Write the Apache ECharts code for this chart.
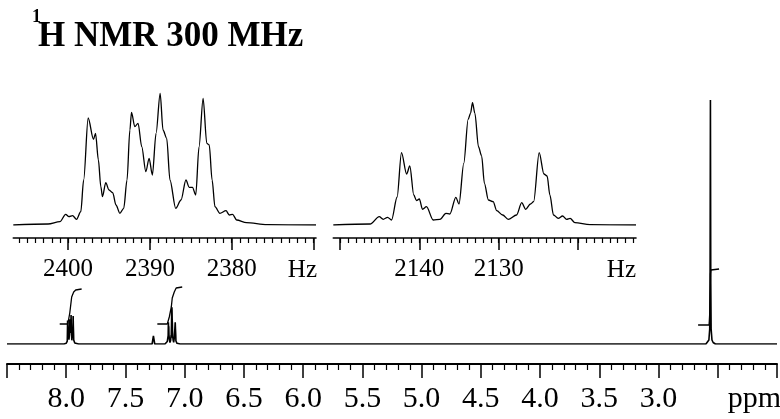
<!DOCTYPE html>
<html><head><meta charset="utf-8">
<script src="https://cdn.jsdelivr.net/npm/echarts@6/dist/echarts.min.js"></script>
<style>html,body{margin:0;padding:0;background:#fff}#c{width:780px;height:419px}</style>
</head><body><div id="c"></div>
<script>
// ---- Inset 1 (aromatic multiplet near 7.97 ppm), Hz vs intensity ----
const inset1Hz = [2406.7, 2402.45, 2401.0, 2400.3, 2399.9, 2399.45, 2398.97, 2398.45, 2398.1, 2397.55, 2396.9, 2396.65, 2396.3, 2396.0, 2395.8, 2395.4, 2395.0, 2394.55, 2394.15, 2393.67, 2393.2, 2392.8, 2392.45, 2392.25, 2391.85, 2391.45, 2391.0, 2390.5, 2390.1, 2389.7, 2389.25, 2388.75, 2388.4, 2387.95, 2387.55, 2386.85, 2386.2, 2385.6, 2385.2, 2384.8, 2384.4, 2384.0, 2383.5, 2383.05, 2382.75, 2382.4, 2382.05, 2381.45, 2380.7, 2380.3, 2379.9, 2379.4, 2378.2, 2375.7, 2369.7];
const inset1Int = [0, 1, 3.3, 10.7, 8.3, 9.3, 5.7, 13.3, 45, 107, 85.7, 91.7, 65, 38.3, 28.3, 42.3, 35, 32.3, 20, 11.7, 16.7, 45, 95, 112.7, 98.3, 101.7, 78.3, 53.3, 66.7, 50, 91.7, 131.7, 95, 86.7, 45, 16.7, 25, 45, 37.7, 37.7, 30, 78, 126.7, 81.7, 80, 45, 18.3, 11.7, 14.3, 10, 10.7, 5, 2.3, 0.3, 0];

// ---- Inset 2 (aromatic multiplet near 7.11 ppm) ----
const inset2Hz = [2150.84, 2146.2, 2145.05, 2144.55, 2144.0, 2143.5, 2142.8, 2142.25, 2141.6, 2141.2, 2140.7, 2140.35, 2140.0, 2139.6, 2139.1, 2138.25, 2137.4, 2136.65, 2136.15, 2135.4, 2135.0, 2134.4, 2133.85, 2133.55, 2133.3, 2133.0, 2132.55, 2132.15, 2131.8, 2131.3, 2130.7, 2130.25, 2129.5, 2128.8, 2127.75, 2127.1, 2126.6, 2126.0, 2125.6, 2124.9, 2124.3, 2123.9, 2123.55, 2123.1, 2122.5, 2121.95, 2121.45, 2121.0, 2120.4, 2118.5, 2112.7];
const inset2Int = [0, 1, 8.3, 5.7, 7.7, 5, 28, 72.3, 51, 59, 30, 24.3, 26, 15.7, 18.3, 5, 5.7, 11.7, 11, 27.7, 21, 61.7, 105.7, 111.7, 122.3, 111.7, 78.3, 69, 41.7, 25, 23.3, 14.3, 10, 5.7, 10, 22.3, 15.7, 21, 23.3, 72.3, 51, 49, 30, 10, 6.7, 9, 5.7, 6.7, 2.3, 0.3, 0];

// ---- Main spectrum pieces (ppm vs intensity) ----
const leadPpm = [8.5], leadInt = [0];
const chcl3Ppm = [7.275, 7.264, 7.253], chcl3Int = [0, 8, 0];
const methylPpm = [2.60, 2.585, 2.575, 2.568, 2.565, 2.562, 2.559, 2.556, 2.549, 2.539, 2.52, 2.0];
const methylInt = [0, 1.5, 4, 15, 60, 244, 60, 15, 4, 1.5, 0, 0];
const spectrometerMHz = 300.13;
const group1Scale = 0.22, group2Scale = 0.30;

// ---- Integral curves ----
const integ1Ppm = [8.055, 7.987, 7.97, 7.954, 7.937, 7.92, 7.87];
const integ1Int = [20, 20, 31, 47, 52, 54, 55];
const integ2Ppm = [7.231, 7.147, 7.13, 7.113, 7.105, 7.088, 7.072, 7.021];
const integ2Int = [20, 20, 27, 37, 46, 52, 56, 57];
const integ3Ppm = [2.666, 2.573, 2.566, 2.562, 2.558, 2.489];
const integ3Int = [19, 19, 35, 70, 74, 75];

// ---- Ticks / labels ----
const mainLabels = [8.0, 7.5, 7.0, 6.5, 6.0, 5.5, 5.0, 4.5, 4.0, 3.5, 3.0];
const inset1Major = [2370, 2380, 2390, 2400];
const inset1Labels = [2380, 2390, 2400];
const inset2Major = [2120, 2130, 2140, 2150];
const inset2Labels = [2130, 2140];
const inset1Range = [2369.7, 2406.7];
const inset2Range = [2112.7, 2150.84];

function zip(a, b) { return a.map((v, i) => [v, b[i]]); }
function intRange(lo, hi) { const r = []; for (let v = Math.ceil(lo); v <= Math.floor(hi); v++) r.push(v); return r; }

const mainData = []
  .concat(zip(leadPpm, leadInt))
  .concat(zip(inset1Hz.map(h => h / spectrometerMHz), inset1Int.map(v => v * group1Scale)))
  .concat(zip(chcl3Ppm, chcl3Int))
  .concat(zip(inset2Hz.map(h => h / spectrometerMHz), inset2Int.map(v => v * group2Scale)))
  .concat(zip(methylPpm, methylInt));

const F = 'Liberation Serif';
const black = '#000';

function insetAxes(grid, range, major, labels) {
  return [
    { gridIndex: grid, type: 'value', min: range[0], max: range[1], inverse: true, position: 'bottom', offset: 13,
      axisLine: { show: true, onZero: false, lineStyle: { color: black, width: 1.6 } },
      axisTick: { show: true, customValues: major, length: 12, lineStyle: { color: black, width: 1.5 } },
      axisLabel: { show: true, customValues: labels, margin: 19, fontFamily: F, fontSize: 25, color: black, formatter: v => String(Math.round(v)) },
      splitLine: { show: false } },
    { gridIndex: grid, type: 'value', min: range[0], max: range[1], inverse: true, position: 'bottom', offset: 13,
      axisLine: { show: false, onZero: false },
      axisTick: { show: true, customValues: intRange(range[0], range[1]), length: 5, lineStyle: { color: black, width: 1.2 } },
      axisLabel: { show: false },
      splitLine: { show: false } }
  ];
}

const chart = echarts.init(document.getElementById('c'), null, { renderer: 'canvas' });
const lineStyleOf = w => ({ color: black, width: w });

chart.setOption({
  animation: false,
  backgroundColor: '#fff',
  grid: [
    { left: 7, right: 0, top: 100, bottom: 75 },
    { left: 13.3, width: 302.7, top: 90, bottom: 194 },
    { left: 333.3, width: 302.7, top: 90, bottom: 194 }
  ],
  xAxis: [
    { gridIndex: 0, type: 'value', min: 2, max: 8.5, interval: 0.5, inverse: true, offset: 20,
      axisLine: { onZero: false, lineStyle: { color: black, width: 2 } },
      axisTick: { length: 14, lineStyle: { color: black, width: 1.5 } },
      minorTick: { show: true, splitNumber: 5, length: 6, lineStyle: { color: black, width: 1.2 } },
      splitLine: { show: false }, minorSplitLine: { show: false },
      axisLabel: { margin: 20, fontFamily: F, fontSize: 30, color: black, hideOverlap: false,
        formatter: v => mainLabels.some(m => Math.abs(m - v) < 1e-6) ? v.toFixed(1) : '' } }
  ].concat(insetAxes(1, inset1Range, inset1Major, inset1Labels))
   .concat(insetAxes(2, inset2Range, inset2Major, inset2Labels)),
  yAxis: [
    { gridIndex: 0, type: 'value', min: 0, max: 244, show: false },
    { gridIndex: 1, type: 'value', min: 0, max: 135, show: false },
    { gridIndex: 2, type: 'value', min: 0, max: 135, show: false }
  ],
  series: [
    { type: 'line', xAxisIndex: 0, yAxisIndex: 0, data: mainData, showSymbol: false, symbol: 'none', lineStyle: lineStyleOf(1.6), silent: true },
    { type: 'line', xAxisIndex: 0, yAxisIndex: 0, data: zip(integ1Ppm, integ1Int), showSymbol: false, symbol: 'none', lineStyle: lineStyleOf(1.3), silent: true },
    { type: 'line', xAxisIndex: 0, yAxisIndex: 0, data: zip(integ2Ppm, integ2Int), showSymbol: false, symbol: 'none', lineStyle: lineStyleOf(1.3), silent: true },
    { type: 'line', xAxisIndex: 0, yAxisIndex: 0, data: zip(integ3Ppm, integ3Int), showSymbol: false, symbol: 'none', lineStyle: lineStyleOf(1.3), silent: true },
    { type: 'line', xAxisIndex: 1, yAxisIndex: 1, data: zip(inset1Hz, inset1Int), smooth: 0.3, smoothMonotone: 'x', showSymbol: false, symbol: 'none', lineStyle: lineStyleOf(1.3), silent: true },
    { type: 'line', xAxisIndex: 3, yAxisIndex: 2, data: zip(inset2Hz, inset2Int), smooth: 0.3, smoothMonotone: 'x', showSymbol: false, symbol: 'none', lineStyle: lineStyleOf(1.3), silent: true }
  ],
  graphic: [
    { type: 'text', x: 32, y: 17, style: { text: '1', font: 'bold 18px "Liberation Serif"', fill: black, align: 'left', verticalAlign: 'middle' } },
    { type: 'text', x: 38, y: 37, style: { text: 'H NMR 300 MHz', font: 'bold 35px "Liberation Serif"', fill: black, align: 'left', verticalAlign: 'middle' } },
    { type: 'text', x: 317, y: 270, style: { text: 'Hz', font: '25px "Liberation Serif"', fill: black, align: 'right', verticalAlign: 'middle' } },
    { type: 'text', x: 636, y: 270, style: { text: 'Hz', font: '25px "Liberation Serif"', fill: black, align: 'right', verticalAlign: 'middle' } },
    { type: 'text', x: 781, y: 399, style: { text: 'ppm', font: '30px "Liberation Serif"', fill: black, align: 'right', verticalAlign: 'middle' } }
  ]
});
</script></body></html>
